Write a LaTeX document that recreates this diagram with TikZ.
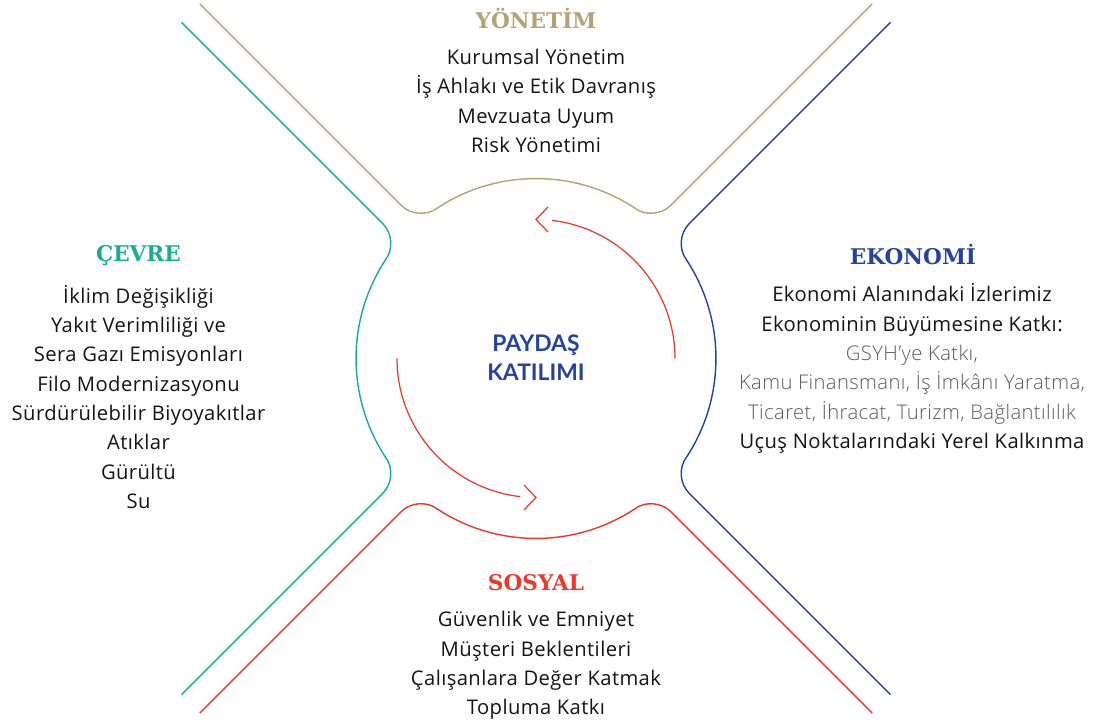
\documentclass[tikz,border=0pt]{standalone}
\usepackage{fontspec}
\setmainfont{Open Sans}[LetterSpace=2]
\newfontfamily\headfont{DejaVu Serif}
\newfontfamily\hubfont{Lato}
\IfFontExistsTF{Open Sans Light}{\newfontfamily\lightfont{Open Sans Light}[LetterSpace=2]}{\newfontfamily\lightfont{Open Sans}[LetterSpace=2]}

\definecolor{yonetimgold}{RGB}{180,162,118}
\definecolor{cevreteal}{RGB}{26,170,150}
\definecolor{ekonomiblue}{RGB}{38,66,160}
\definecolor{sosyalred}{RGB}{234,56,44}
\definecolor{bodytext}{RGB}{20,20,20}
\definecolor{lighttext}{RGB}{90,90,90}

\tikzset{
  quad/.style={line width=0.8pt},
  cycleline/.style={sosyalred, line width=0.7pt},
  head/.style={font=\headfont\bfseries\fontsize{12.3}{14}\selectfont},
  items/.style={align=center, text=bodytext, font=\fontsize{11.5}{16.7}\selectfont},
  hub/.style={align=center, text=ekonomiblue, font=\hubfont\bfseries\fontsize{13}{16.5}\selectfont}
}

\begin{document}
\begin{tikzpicture}[x=0.02cm, y=0.02cm]
  \useasboundingbox (-536,-364.5) rectangle (572,358.5);

  % four bent lines round the circle
  \foreach \ang/\col in {0/yonetimgold, 90/cevreteal, 180/sosyalred, 270/ekonomiblue}
    \draw[quad, \col, rotate=\ang] (-336.1,354.5) -- (-134.7,153.1)
      .. controls (-125.35,143.75) and (-109.2,142.5) .. (-98.8,150.4)
      arc[start angle=123.3, end angle=56.7, radius=180]
      .. controls (109.2,142.5) and (125.35,143.75) .. (134.7,153.1) -- (336.1,354.5);

  % the two turning arrows
  \foreach \ang in {0,180} {
    \draw[cycleline, rotate=\ang] (139,0) arc[start angle=0, end angle=83.4, radius=139];
    \draw[cycleline, rotate=\ang] (12,151.5) -- (0,139) -- (12,126.5);
  }

  \node[hub] (paydas) at (0,1) {PAYDAŞ\\ KATILIMI};

  \node[head, text=yonetimgold] (yonetim) at (0,339.5) {YÖNETİM};
  \node[items] (yonetimlist) at (0,257.5) {Kurumsal Yönetim\\ İş Ahlakı ve Etik Davranış\\ Mevzuata Uyum\\ Risk Yönetimi};

  \node[head, text=cevreteal] (cevre) at (-397.5,102.5) {ÇEVRE};
  \node[items] (cevrelist) at (-397.5,-38.5) {İklim Değişikliği\\ Yakıt Verimliliği ve\\ Sera Gazı Emisyonları\\ Filo Modernizasyonu\\ Sürdürülebilir Biyoyakıtlar\\ Atıklar\\ Gürültü\\ Su};

  \node[head, text=ekonomiblue] (ekonomi) at (377,103.5) {EKONOMİ};
  \node[items] (ekonomilist) at (376,-10) {Ekonomi Alanındaki İzlerimiz\\ Ekonominin Büyümesine Katkı:\\
    {\lightfont\color{lighttext}GSYH’ye Katkı,}\\
    {\lightfont\color{lighttext}Kamu Finansmanı, İş İmkânı Yaratma,}\\
    {\lightfont\color{lighttext}Ticaret, İhracat, Turizm, Bağlantılılık}\\
    Uçuş Noktalarındaki Yerel Kalkınma};

  \node[head, text=sosyalred] (sosyal) at (0,-224.5) {SOSYAL};
  \node[items] (sosyallist) at (0,-307) {Güvenlik ve Emniyet\\ Müşteri Beklentileri\\ Çalışanlara Değer Katmak\\ Topluma Katkı};
\end{tikzpicture}
\end{document}
